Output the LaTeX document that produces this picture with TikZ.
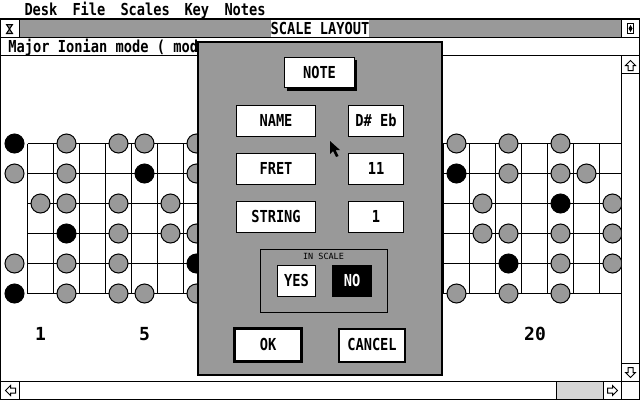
\documentclass[tikz,border=0pt]{standalone}
\usepackage{fontspec}
\newfontfamily\atari[FakeStretch=0.83]{DejaVu Sans Mono}
\newfontfamily\atariwide{DejaVu Sans Mono}
\newcommand\atfont{\atari\bfseries\fontsize{16.5}{16.5}\selectfont}
\newcommand\atsmall{\atariwide\fontsize{8.5}{8.5}\selectfont}
\newcommand\atbig{\atariwide\bfseries\fontsize{18}{18}\selectfont}
\definecolor{dither}{gray}{0.6}
\definecolor{lightdither}{gray}{0.84}
\tikzset{
  lbl/.style={font=\atfont, inner sep=0pt, text height=11.5pt, text depth=0pt},
  biglbl/.style={font=\atbig, inner sep=0pt, text height=13pt, text depth=0pt},
  smalllbl/.style={font=\atsmall, inner sep=0pt, text height=6pt, text depth=0pt},
  btn/.style={draw=black, fill=white, line width=1pt},
  gdot/.style={draw=black, fill=dither, line width=1pt},
  bdot/.style={draw=black, fill=black, line width=1pt},
  scrollarrow/.pic={\draw[fill=white, line width=1pt, line join=miter]
     (0,-5) -- (5,0) -- (2.5,0) -- (2.5,5) -- (-2.5,5) -- (-2.5,0) -- (-5,0) -- cycle;}
}
\begin{document}
\begin{tikzpicture}[x=1pt,y=-1pt,line width=1pt]
\useasboundingbox (0,0) rectangle (640,400);
\fill[white] (0,0) rectangle (640,400);

% ---------- menu bar ----------
\node[lbl,anchor=west] (mdesk)   at (24,10)  {Desk};
\node[lbl,anchor=west] (mfile)   at (72,10)  {File};
\node[lbl,anchor=west] (mscales) at (120,10) {Scales};
\node[lbl,anchor=west] (mkey)    at (184,10) {Key};
\node[lbl,anchor=west] (mnotes)  at (224,10) {Notes};

% ---------- window frame ----------
\fill[dither] (20,20) rectangle (621,37);
\fill[white] (271,20) rectangle (369,37);
\node[lbl] (title) at (320,29) {SCALE LAYOUT};
\draw[line width=2pt] (0,19) -- (640,19);
\draw (0.5,19) -- (0.5,400);
\draw (639.5,19) -- (639.5,400);
\draw (0,399.5) -- (640,399.5);
\draw (19.5,19) -- (19.5,37);
\draw (621.5,19) -- (621.5,37);
\draw (0,37.5) -- (640,37.5);
\draw (0,55.5) -- (640,55.5);
% close box icon
\draw[line width=1pt, fill=dither] (6.5,24.5) -- (12.5,24.5) -- (6.5,33.5) -- (12.5,33.5) -- cycle;
% full box icon
\draw (627.5,23.5) rectangle (633.5,33.5);
\fill (630.5,25) -- (632.5,28.5) -- (630.5,32) -- (628.5,28.5) -- cycle;

% info line
\node[lbl,anchor=west] (info) at (8,47) {Major Ionian mode ( mode};

% ---------- scroll bars ----------
\draw (621.5,55) -- (621.5,399);
\draw (621,73.5) -- (640,73.5);
\draw (621,363.5) -- (640,363.5);
\draw (0,381.5) -- (640,381.5);
\draw (19.5,381) -- (19.5,399);
\fill[lightdither] (557,382) rectangle (603,399);
\draw (556.5,381) -- (556.5,399);
\draw (603.5,381) -- (603.5,399);
\pic at (630.5,65.5) {scrollarrow};
\pic[rotate=180] at (630.5,372.5) {scrollarrow};
\pic[rotate=90] at (10.5,390.5) {scrollarrow};
\pic[rotate=-90] at (612.5,390.5) {scrollarrow};

% ---------- fretboard ----------
\begin{scope}
\clip (1,56) rectangle (621,381);
\foreach \j in {0,...,5} \draw (27.5,143.5+30*\j) -- (621,143.5+30*\j);
\foreach \k in {0,...,22} \draw (27.5+26*\k,143.5) -- (27.5+26*\k,293.5);
% grey dots (fret n, string j)
\foreach \n/\j in {2/1,4/1,5/1,7/1,17/1,19/1,21/1,
                   0/2,2/2,7/2,19/2,21/2,22/2,
                   1/3,2/3,4/3,6/3,18/3,23/3,
                   4/4,6/4,7/4,18/4,19/4,21/4,23/4,
                   0/5,2/5,4/5,21/5,23/5,
                   2/6,4/6,5/6,7/6,17/6,19/6,21/6}
  \draw[gdot] (14.5+26*\n,113.5+30*\j) circle (9.5);
% root (black) dots
\foreach \n/\j in {0/1,5/2,17/2,21/3,2/4,7/5,19/5,0/6}
  \draw[bdot] (14.5+26*\n,113.5+30*\j) circle (9.5);
\end{scope}
\node[biglbl] (f1)  at (40.5,334) {1};
\node[biglbl] (f5)  at (144.5,334) {5};
\node[biglbl] (f20) at (535,334) {20};

% ---------- dialog ----------
\draw[line width=2pt, fill=dither] (198,42) rectangle (442,375);

% NOTE button with shadow
\fill (287,87) rectangle (357,90.5);
\fill (354,60) rectangle (357,90.5);
\draw[btn] (284.5,57.5) rectangle (354.5,87.5);
\node[lbl] (note) at (319.5,72.5) {NOTE};

\draw[btn] (236.5,105.5) rectangle (315.5,136.5);
\node[lbl] (name) at (276,121) {NAME};
\draw[btn] (348.5,105.5) rectangle (403.5,136.5);
\node[lbl] (nameval) at (376,121) {D\# Eb};

\draw[btn] (236.5,153.5) rectangle (315.5,184.5);
\node[lbl] (fret) at (276,169) {FRET};
\draw[btn] (348.5,153.5) rectangle (403.5,184.5);
\node[lbl] (fretval) at (376,169) {11};

\draw[btn] (236.5,201.5) rectangle (315.5,232.5);
\node[lbl] (string) at (276,217) {STRING};
\draw[btn] (348.5,201.5) rectangle (403.5,232.5);
\node[lbl] (stringval) at (376,217) {1};

% IN SCALE group
\draw (260.5,249.5) rectangle (387.5,312.5);
\node[smalllbl] (inscale) at (323.5,256.5) {IN SCALE};
\draw[btn] (277.5,265.5) rectangle (315.5,296.5);
\node[lbl] (yes) at (296.5,281) {YES};
\fill[black] (332,265) rectangle (372,297);
\node[lbl,text=white] (no) at (352,281) {NO};

% OK / CANCEL
\draw[btn, line width=3pt] (234.5,328.5) rectangle (301.5,361.5);
\node[lbl] (ok) at (268,345) {OK};
\draw[btn, line width=2pt] (339,329) rectangle (405,362);
\node[lbl] (cancel) at (372,345) {CANCEL};

% mouse pointer
\fill[black] (330,141) -- (330,154) -- (333,151) -- (336,157) -- (338.5,156) -- (335.5,150) -- (340,150) -- cycle;
\end{tikzpicture}
\end{document}
